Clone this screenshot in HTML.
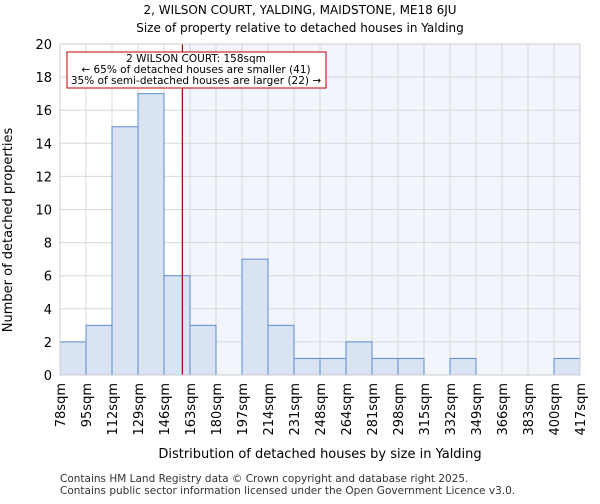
<!DOCTYPE html>
<html><head><meta charset="utf-8"><style>
body{margin:0;background:#fff;font-family:"DejaVu Sans","Liberation Sans",sans-serif}
</style></head><body>
<svg id="chart" width="600" height="500" xmlns="http://www.w3.org/2000/svg" font-family="DejaVu Sans, Liberation Sans, sans-serif">
<text x="300" y="14" text-anchor="middle" font-size="12">2, WILSON COURT, YALDING, MAIDSTONE, ME18 6JU</text>
<text x="300" y="32" text-anchor="middle" font-size="12">Size of property relative to detached houses in Yalding</text>
<g id="plot"></g>
<text x="320" y="458" text-anchor="middle" font-size="13">Distribution of detached houses by size in Yalding</text>
<text transform="translate(12,230) rotate(-90)" text-anchor="middle" font-size="13">Number of detached properties</text>
<text x="60" y="482" font-size="10.5" fill="#333">Contains HM Land Registry data © Crown copyright and database right 2025.</text>
<text x="60" y="494" font-size="10.5" fill="#333">Contains public sector information licensed under the Open Government Licence v3.0.</text>
</svg>
<script>
const binLabels=["78sqm","95sqm","112sqm","129sqm","146sqm","163sqm","180sqm","197sqm","214sqm","231sqm","248sqm","264sqm","281sqm","298sqm","315sqm","332sqm","349sqm","366sqm","383sqm","400sqm","417sqm"];
const counts=[2,3,15,17,6,3,0,7,3,1,1,2,1,1,0,1,0,0,0,1];
const yTicks=[0,2,4,6,8,10,12,14,16,18,20];
const subjectSize=158;
const binEdges=[78,95,112,129,146,163,180,197,214,231,248,264,281,298,315,332,349,366,383,400,417];
const L=60,R=580,T=44,B=375,yMax=20;
const NS="http://www.w3.org/2000/svg";
const g=document.getElementById('plot');
const bw=(R-L)/counts.length;
const x=i=>L+i*bw;
const y=v=>B-(v/yMax)*(B-T);
function mk(t,a){const e=document.createElementNS(NS,t);for(const k in a)e.setAttribute(k,a[k]);g.appendChild(e);return e;}
let si=0;for(let i=0;i<binEdges.length-1;i++){if(subjectSize>=binEdges[i]&&subjectSize<=binEdges[i+1])si=i;}
const sx=x(si)+(subjectSize-binEdges[si])/(binEdges[si+1]-binEdges[si])*bw;
let bg=mk('rect',{x:L,y:T,width:R-L,height:B-T,fill:'#fff'});


let bg2=mk('rect',{x:sx,y:T,width:R-sx,height:B-T,fill:'#f3f5fd'});


for(let i=0;i<=counts.length;i++){let l=mk('line',{x1:x(i),x2:x(i),y1:T,y2:B,stroke:'#d8d8d8','stroke-width':1});

}
yTicks.forEach(v=>{let l=mk('line',{x1:L,x2:R,y1:y(v),y2:y(v),stroke:'#d8d8d8','stroke-width':1});


let t=mk('text',{x:L-8,y:y(v)+5,'text-anchor':'end','font-size':13});t.textContent=v;

});
counts.forEach((c,i)=>{if(c<=0)return;let r=mk('rect',{x:x(i),y:y(c),width:bw,height:B-y(c),fill:'#dae3f3',stroke:'#5b8bd0','stroke-width':1});

});
binLabels.forEach((s,i)=>{let t=mk('text',{transform:`translate(${x(i)+5},${B+8}) rotate(-90)`,'text-anchor':'end','font-size':13});t.textContent=s;

});
let ln=mk('line',{x1:sx,x2:sx,y1:T,y2:B,stroke:'#a00000','stroke-width':1.2});


let bx=mk('rect',{x:67,y:52,width:259,height:36,fill:'#fff',stroke:'#c00000','stroke-width':1});


["2 WILSON COURT: 158sqm","← 65% of detached houses are smaller (41)","35% of semi-detached houses are larger (22) →"].forEach((s,i)=>{let t=mk('text',{x:196,y:62+i*11,'text-anchor':'middle','font-size':10.5});t.textContent=s;

});
let ax=mk('rect',{x:L,y:T,width:R-L,height:B-T,fill:'none',stroke:'#ccc'});


</script>
</body></html>
